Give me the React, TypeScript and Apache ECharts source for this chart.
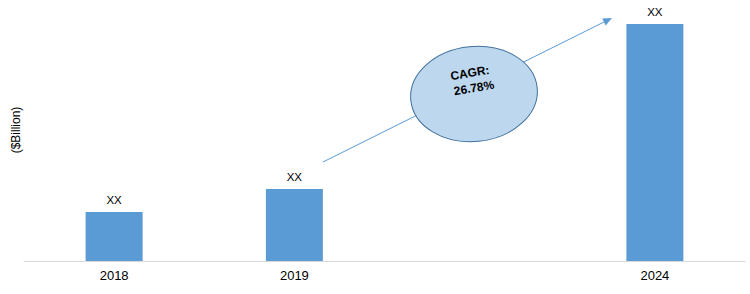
import React, { useEffect, useRef } from "react";
import * as echarts from "echarts";

const categories = ["2018", "2019", "", "2024"];
const values: (number | string)[] = [4.9, 7.2, "-", 23.7];
const barLabels = ["XX", "XX", "", "XX"];
const yAxisName = "($Billion)";
const cagrLines = ["CAGR:", "26.78%"];

export default function App() {
  const ref = useRef<HTMLDivElement>(null);
  useEffect(() => {
    if (!ref.current) return;
    const chart = echarts.init(ref.current, null, { renderer: "svg" });
    const font = "'Liberation Sans', Arial, sans-serif";
    // arrow geometry
    const x1 = 323, y1 = 162, x2 = 612, y2 = 18;
    const len = Math.hypot(x2 - x1, y2 - y1);
    const ux = (x2 - x1) / len, uy = (y2 - y1) / len;
    const nx = -uy, ny = ux;
    const hl = 9, hw = 4;
    const bx = x2 - hl * ux, by = y2 - hl * uy;
    chart.setOption({
      animation: false,
      grid: { left: 24, right: 5, top: 0, bottom: 33 },
      xAxis: {
        type: "category",
        data: categories,
        axisLine: { lineStyle: { color: "#D9D9D9", width: 1 } },
        axisTick: { show: false },
        axisLabel: { color: "#000", fontSize: 13, fontFamily: font, margin: 8 },
      },
      yAxis: {
        type: "value",
        min: 0,
        max: 26.1,
        show: false,
        splitLine: { show: false },
      },
      series: [
        {
          type: "bar",
          data: values,
          barWidth: 57,
          itemStyle: { color: "#5B9BD5" },
          label: {
            show: true,
            position: "top",
            distance: 6,
            color: "#000",
            fontSize: 11.5,
            fontFamily: font,
            formatter: (p: any) => barLabels[p.dataIndex],
          },
        },
      ],
      graphic: [
        {
          type: "text",
          x: 15.5,
          y: 130,
          rotation: Math.PI / 2,
          style: {
            text: yAxisName,
            fill: "#000",
            font: `12px ${font}`,
            align: "center",
            verticalAlign: "middle",
          },
        },
        {
          type: "line",
          shape: { x1, y1, x2: bx, y2: by },
          style: { stroke: "#5B9BD5", lineWidth: 1 },
        },
        {
          type: "polygon",
          shape: {
            points: [
              [x2, y2],
              [bx + hw * nx, by + hw * ny],
              [bx - hw * nx, by - hw * ny],
            ],
          },
          style: { fill: "#5B9BD5" },
        },
        {
          type: "ellipse",
          x: 474,
          y: 94,
          rotation: 0.1,
          shape: { cx: 0, cy: 0, rx: 63.5, ry: 47.5 },
          style: { fill: "#BDD7EE", stroke: "#41719C", lineWidth: 1 },
        },
        {
          type: "text",
          x: 470,
          y: 73,
          rotation: 0.165,
          style: {
            text: cagrLines[0],
            fill: "#000",
            font: `bold 12px ${font}`,
            align: "center",
            verticalAlign: "middle",
          },
        },
        {
          type: "text",
          x: 474,
          y: 88,
          rotation: 0.165,
          style: {
            text: cagrLines[1],
            fill: "#000",
            font: `bold 12px ${font}`,
            align: "center",
            verticalAlign: "middle",
          },
        },
      ],
    });
    return () => chart.dispose();
  }, []);
  return (
    <div
      ref={ref}
      style={{ width: 750, height: 294, position: "absolute", left: 0, top: 0 }}
    />
  );
}
